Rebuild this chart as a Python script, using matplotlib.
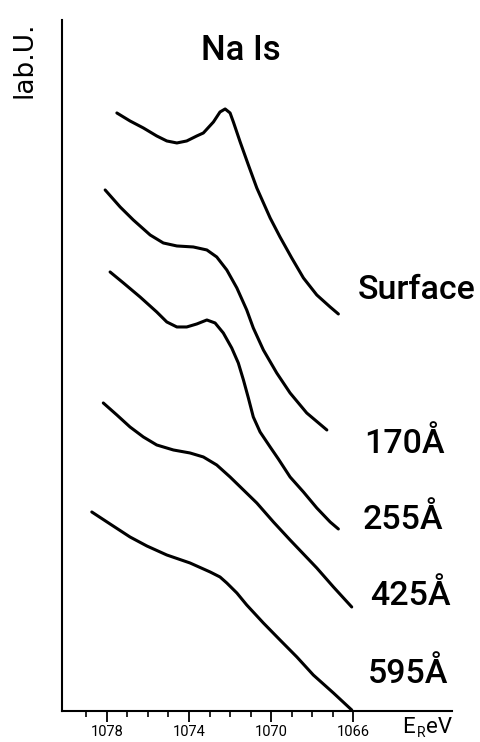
# na1s_depth_profile.py
# Na 1s spectra at different sputter depths

import matplotlib.pyplot as plt

# ---- DATA (binding energy in eV, intensity in arb. units) ----
surface_e = [1077.51, 1076.87, 1076.22, 1075.57, 1075.08, 1074.59, 1074.11, 1073.62,
             1073.30, 1072.81, 1072.49, 1072.24, 1072.00, 1071.84, 1071.51, 1071.11,
             1070.70, 1070.05, 1069.57, 1069.00, 1068.43, 1067.78, 1067.13, 1066.73]
surface_i = [598, 590, 583, 575, 570, 568, 570, 575,
             578, 589, 599, 602, 598, 589, 569, 546,
             523, 493, 474, 453, 433, 416, 404, 397]

d170_e = [1078.08, 1077.35, 1076.71, 1075.89, 1075.25, 1074.59, 1073.79, 1073.13,
          1072.65, 1072.16, 1071.67, 1071.19, 1070.87, 1070.38, 1069.73, 1069.08,
          1068.27, 1067.29]
d170_i = [521, 504, 491, 476, 468, 465, 464, 461,
          454, 441, 423, 401, 383, 361, 338, 318,
          298, 281]

d255_e = [1077.84, 1077.19, 1076.38, 1075.57, 1075.08, 1074.59, 1074.11, 1073.62,
          1073.13, 1072.73, 1072.33, 1071.92, 1071.60, 1071.35, 1071.11, 1070.87,
          1070.54, 1070.05, 1069.65, 1069.08, 1068.43, 1067.78, 1067.13, 1066.73]
d255_i = [439, 428, 414, 399, 389, 384, 384, 387,
          391, 388, 378, 363, 348, 331, 313, 294,
          279, 264, 252, 234, 219, 203, 189, 182]

d425_e = [1078.17, 1077.51, 1076.87, 1076.22, 1075.57, 1074.76, 1073.95, 1073.30,
          1072.65, 1072.00, 1071.35, 1070.70, 1069.89, 1069.08, 1068.43, 1067.78,
          1066.97, 1066.08]
d425_i = [308, 296, 284, 274, 266, 261, 258, 254,
          246, 234, 221, 208, 189, 171, 157, 143,
          124, 104]

d595_e = [1078.73, 1077.84, 1076.87, 1076.05, 1075.08, 1073.95, 1072.97, 1072.49,
          1072.16, 1071.67, 1071.19, 1070.38, 1069.57, 1068.75, 1067.95, 1066.97,
          1066.08]
d595_i = [199, 187, 174, 165, 156, 148, 139, 134,
          128, 118, 106, 88, 71, 54, 36, 18,
          1]

curves = [(surface_e, surface_i), (d170_e, d170_i), (d255_e, d255_i),
          (d425_e, d425_i), (d595_e, d595_i)]

labels = ["Surface", "170Å", "255Å", "425Å", "595Å"]
label_e = [1065.80, 1065.45, 1065.55, 1065.20, 1065.30]
label_i = [412, 258, 182, 106, 28]

major_ticks = [1078, 1074, 1070, 1066]
minor_ticks = [1079, 1077, 1076, 1075, 1073, 1072, 1071, 1069, 1068, 1067]

# ---- PLOT ----
lab_font = ["Roboto", "DejaVu Sans"]

fig = plt.figure(figsize=(4.81, 7.42), dpi=100)
ax = fig.add_axes([0.1289, 0.0418, 0.8108, 0.9313])

for e, i in curves:
    ax.plot(e, i, color="black", linewidth=2.2, solid_capstyle="round",
            solid_joinstyle="round")

for lab, e, i in zip(labels, label_e, label_i):
    ax.text(e, i, lab, family=lab_font, fontsize=24.5, fontweight="medium",
            ha="left", va="baseline")

ax.set_xlim(1080.18, 1061.20)
ax.set_ylim(0, 691)

ax.spines["top"].set_visible(False)
ax.spines["right"].set_visible(False)
ax.spines["left"].set_linewidth(1.5)
ax.spines["bottom"].set_linewidth(1.5)

ax.set_yticks([])
ax.set_xticks(major_ticks)
ax.set_xticks(minor_ticks, minor=True)
ax.set_xticklabels([str(t) for t in major_ticks], family=lab_font, fontsize=10.5)
ax.tick_params(axis="x", which="major", direction="out", length=8, width=1.3, pad=2)
ax.tick_params(axis="x", which="minor", direction="out", length=4, width=1.2)

# titles and axis captions
fig.text(241 / 481, 1 - 50 / 742, "Na Is", family=lab_font, fontsize=25,
         fontweight="medium", ha="center", va="center")
fig.text(24 / 481, 1 - 60 / 742, "lab.U.", family=["DejaVu Sans"], fontsize=19,
         rotation=90, ha="center", va="center")
fig.text(402 / 481, 1 - 733 / 742, "E", family=lab_font, fontsize=16,
         ha="left", va="baseline")
fig.text(417 / 481, 1 - 737 / 742, "R", family=lab_font, fontsize=10,
         ha="left", va="baseline")
fig.text(426 / 481, 1 - 733 / 742, "eV", family=lab_font, fontsize=16,
         ha="left", va="baseline")

plt.savefig("out.png", dpi=100)
